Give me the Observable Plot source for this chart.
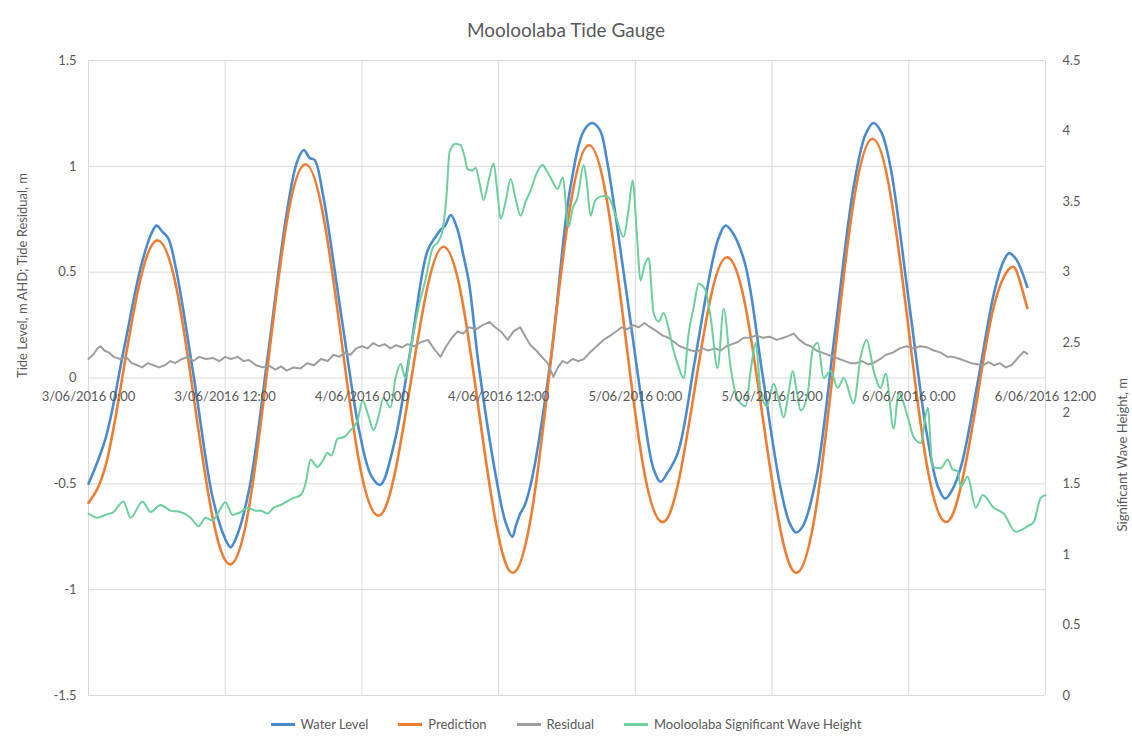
<!DOCTYPE html>
<html>
<head>
<meta charset="utf-8">
<script src="https://cdn.jsdelivr.net/npm/d3@7"></script>
<script src="https://cdn.jsdelivr.net/npm/@observablehq/plot@0.6"></script>
<style>
  html, body { margin: 0; padding: 0; background: #fff; }
  body { width: 1132px; height: 738px; overflow: hidden; font-family: Lato, "Open Sans", sans-serif; color: #595959; }
  #title { height: 45px; box-sizing: border-box; padding-top: 19px; text-align: center; font-size: 19px; line-height: 22px; color: #595959; }
  #chart svg { display: block; }
  #legend { height: 28px; display: flex; justify-content: center; align-items: center; gap: 30px; font-size: 13px; color: #595959; }
  .item { display: flex; align-items: center; gap: 6px; }
  .sw { width: 24px; height: 3px; display: inline-block; }
</style>
</head>
<body>
<div id="title">Mooloolaba Tide Gauge</div>
<div id="chart"></div>
<div id="legend"></div>
<script>
// ---- Data (hours after 3/06/2016 0:00, value) ----
const seriesNames = ["Water Level", "Prediction", "Residual", "Mooloolaba Significant Wave Height"];
const seriesColors = ["#4a8bd0", "#ee7d31", "#9e9e9e", "#6ccf9c"];

const waterLevel = [[0,-0.50],[1.525,-0.28],[3.05,0.12],[4.575,0.52],[5.5,0.68],[5.97,0.72],[6.5,0.69],[7.0,0.66],[7.7,0.51],[9.3,-0.015],[10.9,-0.566],[12.0,-0.76],[12.47,-0.80],[13.0,-0.75],[14.125,-0.52],[15.75,0.11],[17.375,0.77],[18.3,1.02],[18.9,1.077],[19.4,1.04],[19.85,1.03],[20.6,0.86],[22.2,0.29],[23.8,-0.26],[24.8,-0.46],[25.6,-0.505],[26.85,-0.305],[28.3,0.145],[29.75,0.60],[30.5,0.67],[30.9,0.70],[31.3,0.72],[31.8,0.77],[32.4,0.70],[32.9,0.58],[33.4,0.45],[34.25,0.06],[35.775,-0.47],[36.6,-0.68],[37.2,-0.75],[37.5,-0.70],[37.9,-0.64],[38.3,-0.60],[38.95,-0.47],[40.6,0.10],[42.25,0.885],[43.5,1.17],[44.2,1.205],[44.9,1.17],[45.5,1.03],[47.1,0.45],[48.7,-0.16],[49.6,-0.43],[50.2,-0.49],[50.8,-0.45],[51.75,-0.35],[53.2,0.075],[54.65,0.52],[55.3,0.66],[55.9,0.72],[56.5,0.69],[57.625,0.54],[59.15,0.02],[60.675,-0.50],[61.5,-0.68],[62.1,-0.73],[62.7,-0.70],[63.85,-0.48],[65.5,0.205],[67.15,0.90],[68.2,1.15],[68.9,1.205],[69.6,1.16],[70.4,0.995],[72.0,0.365],[73.6,-0.27],[74.6,-0.52],[75.2,-0.57],[75.8,-0.53],[76.625,-0.41],[78.05,-0.02],[79.475,0.40],[80.3,0.55],[80.8,0.59],[81.3,0.57],[81.65,0.54],[82.4,0.43]];

const prediction = [[0,-0.59],[1.525,-0.41],[3.05,0.03],[4.575,0.47],[6.1,0.65],[7.7,0.43],[9.3,-0.115],[10.9,-0.66],[12.5,-0.88],[14.125,-0.60],[15.75,0.065],[17.375,0.73],[19.0,1.01],[20.6,0.77],[22.2,0.18],[23.8,-0.41],[25.4,-0.65],[26.85,-0.46],[28.3,-0.015],[29.75,0.43],[31.2,0.62],[32.725,0.39],[34.25,-0.15],[35.775,-0.69],[37.3,-0.92],[38.95,-0.62],[40.6,0.09],[42.25,0.80],[43.9,1.10],[45.5,0.84],[47.1,0.21],[48.7,-0.42],[50.3,-0.68],[51.75,-0.50],[53.2,-0.055],[54.65,0.39],[56.1,0.57],[57.625,0.35],[59.15,-0.175],[60.675,-0.70],[62.2,-0.92],[63.85,-0.62],[65.5,0.105],[67.15,0.83],[68.8,1.13],[70.4,0.865],[72.0,0.225],[73.6,-0.415],[75.2,-0.68],[76.625,-0.50],[78.05,-0.08],[79.475,0.34],[80.9,0.52],[81.65,0.475],[82.4,0.33]];

const residual = [[0,0.09],[0.4,0.11],[0.8,0.14],[1.05,0.15],[1.4,0.13],[1.8,0.12],[2.2,0.10],[2.8,0.09],[3.3,0.10],[3.8,0.07],[4.3,0.06],[4.7,0.05],[5.2,0.07],[5.7,0.06],[6.2,0.05],[6.7,0.06],[7.2,0.08],[7.6,0.07],[8.2,0.09],[8.7,0.10],[9.2,0.08],[9.7,0.10],[10.3,0.09],[10.9,0.095],[11.5,0.08],[12.0,0.10],[12.5,0.09],[13.1,0.10],[13.6,0.08],[14.1,0.085],[14.7,0.06],[15.3,0.05],[15.8,0.06],[16.4,0.04],[16.9,0.055],[17.4,0.035],[18.0,0.05],[18.6,0.045],[19.2,0.07],[19.8,0.06],[20.4,0.09],[21.0,0.08],[21.5,0.11],[22.0,0.10],[22.5,0.12],[23.0,0.11],[23.5,0.14],[24.0,0.15],[24.5,0.14],[25.0,0.165],[25.5,0.15],[26.0,0.16],[26.5,0.14],[27.0,0.155],[27.5,0.145],[28.0,0.16],[28.6,0.15],[29.2,0.17],[29.8,0.18],[30.3,0.14],[30.9,0.10],[31.4,0.15],[31.9,0.19],[32.4,0.22],[32.9,0.21],[33.4,0.24],[34.0,0.23],[34.6,0.25],[35.2,0.265],[35.7,0.24],[36.2,0.22],[36.8,0.18],[37.3,0.22],[37.9,0.24],[38.4,0.19],[38.8,0.155],[39.3,0.13],[39.8,0.10],[40.3,0.07],[40.8,0.005],[41.2,0.05],[41.6,0.08],[42.0,0.07],[42.5,0.09],[43.0,0.08],[43.5,0.09],[44.0,0.12],[44.6,0.15],[45.2,0.18],[45.8,0.20],[46.3,0.22],[46.8,0.24],[47.3,0.23],[47.8,0.25],[48.3,0.24],[48.8,0.26],[49.3,0.24],[49.9,0.22],[50.4,0.20],[50.9,0.19],[51.4,0.17],[51.9,0.15],[52.4,0.14],[52.9,0.13],[53.4,0.125],[53.9,0.14],[54.4,0.13],[55.0,0.14],[55.5,0.13],[56.0,0.15],[56.5,0.16],[57.0,0.17],[57.5,0.19],[58.0,0.19],[58.6,0.20],[59.2,0.19],[59.8,0.195],[60.4,0.18],[61.0,0.19],[61.5,0.20],[61.9,0.21],[62.4,0.18],[62.9,0.16],[63.4,0.15],[63.9,0.13],[64.4,0.12],[64.9,0.11],[65.4,0.10],[65.9,0.09],[66.4,0.08],[66.9,0.07],[67.4,0.07],[67.9,0.08],[68.4,0.065],[68.9,0.07],[69.5,0.09],[70.0,0.11],[70.6,0.12],[71.2,0.14],[71.8,0.15],[72.4,0.14],[73.0,0.15],[73.6,0.145],[74.2,0.13],[74.8,0.12],[75.4,0.10],[75.9,0.10],[76.5,0.09],[77.0,0.08],[77.5,0.07],[78.0,0.065],[78.5,0.06],[79.0,0.075],[79.5,0.06],[80.0,0.07],[80.5,0.05],[81.0,0.06],[81.5,0.09],[82.1,0.125],[82.4,0.115]];

const waveHeight = [[0,1.29],[0.79,1.26],[1.49,1.28],[2.19,1.30],[3.07,1.375],[3.69,1.26],[4.74,1.375],[5.44,1.30],[6.32,1.35],[7.2,1.31],[8.08,1.30],[8.96,1.26],[9.66,1.20],[10.27,1.26],[10.89,1.24],[11.41,1.30],[12.03,1.37],[12.64,1.28],[13.35,1.30],[13.96,1.33],[14.66,1.31],[15.1,1.31],[15.72,1.29],[16.24,1.33],[16.86,1.35],[18.0,1.40],[18.61,1.42],[19.05,1.50],[19.49,1.67],[20.1,1.62],[20.54,1.66],[20.98,1.72],[21.33,1.70],[21.86,1.82],[22.39,1.83],[23.0,1.88],[23.62,1.95],[24.06,2.09],[24.58,1.98],[25.02,1.88],[25.46,1.98],[25.9,2.11],[26.51,2.04],[26.95,2.25],[27.39,2.35],[27.83,2.25],[28.27,2.45],[28.97,2.75],[29.59,2.95],[30.2,3.17],[30.73,3.22],[31.08,3.30],[31.43,3.55],[31.69,3.85],[32.22,3.91],[32.66,3.90],[33.01,3.82],[33.27,3.73],[33.71,3.72],[33.98,3.74],[34.33,3.63],[34.68,3.51],[35.12,3.65],[35.56,3.77],[35.91,3.55],[36.17,3.38],[36.61,3.50],[37.05,3.66],[37.49,3.52],[37.93,3.40],[38.37,3.50],[38.81,3.58],[39.33,3.70],[39.86,3.76],[40.21,3.72],[40.56,3.67],[41.18,3.59],[41.62,3.67],[42.14,3.32],[42.49,3.45],[42.93,3.53],[43.46,3.76],[43.72,3.65],[44.07,3.40],[44.43,3.50],[44.78,3.53],[45.22,3.54],[45.65,3.53],[46.27,3.40],[46.97,3.25],[47.41,3.45],[47.76,3.65],[48.11,3.30],[48.46,2.94],[48.81,3.05],[49.17,3.10],[49.6,2.71],[50.04,2.65],[50.48,2.71],[50.92,2.60],[51.27,2.47],[51.71,2.35],[52.24,2.25],[52.68,2.57],[53.12,2.75],[53.56,2.92],[53.91,2.90],[54.17,2.87],[54.61,2.68],[55.22,2.32],[55.75,2.74],[56.37,2.32],[56.98,2.10],[57.68,2.05],[58.12,2.30],[58.56,2.50],[58.99,2.16],[59.53,2.05],[60.14,2.21],[60.58,2.10],[61.02,1.97],[61.46,2.15],[61.81,2.30],[62.16,2.16],[62.51,2.02],[63.13,2.14],[63.56,2.45],[64.0,2.50],[64.53,2.25],[65.14,2.30],[65.76,2.18],[66.29,2.25],[67.16,2.07],[67.78,2.40],[68.31,2.52],[68.92,2.30],[69.53,2.18],[69.97,2.28],[70.68,1.89],[71.11,2.15],[71.55,2.07],[71.99,1.95],[72.43,1.83],[73.05,1.79],[73.66,2.04],[74.1,1.62],[74.8,1.61],[75.42,1.67],[75.86,1.60],[76.29,1.59],[76.56,1.48],[77.17,1.55],[77.88,1.33],[78.49,1.42],[79.46,1.33],[80.33,1.29],[81.39,1.16],[82.44,1.20],[82.97,1.23],[83.58,1.40],[84.0,1.42]];

const leftTicks = [-1.5, -1, -0.5, 0, 0.5, 1, 1.5];
const rightTicks = [0, 0.5, 1, 1.5, 2, 2.5, 3, 3.5, 4, 4.5];
const xTickHours = [0, 12, 24, 36, 48, 60, 72, 84];
const leftTitle = "Tide Level, m AHD; Tide Residual, m";
const rightTitle = "Significant Wave Height, m";

// ---- helpers ----
const t0 = Date.UTC(2016, 5, 3, 0, 0);
const toDate = h => new Date(t0 + h * 3600e3);
const rows = arr => arr.map(([h, v]) => ({t: toDate(h), v}));
const leftDomain = [-1.5, 1.5], rightDomain = [0, 4.5];
const rightToLeft = w => leftDomain[0] + (w - rightDomain[0]) * (leftDomain[1] - leftDomain[0]) / (rightDomain[1] - rightDomain[0]);
const fmtDate = d => `${d.getUTCDate()}/06/2016 ${d.getUTCHours()}:00`;
const xTicks = xTickHours.map(toDate);
const grid = "#d9d9d9";

const chart = Plot.plot({
  width: 1132,
  height: 665,
  marginLeft: 88,
  marginRight: 87,
  marginTop: 15,
  marginBottom: 15,
  style: {fontFamily: "Lato, 'Open Sans', sans-serif", fontSize: "13px", color: "#595959", background: "#fff", overflow: "visible"},
  x: {type: "utc", domain: [toDate(0), toDate(84)], axis: null},
  y: {domain: leftDomain},
  marks: [
    Plot.gridY(leftTicks, {stroke: grid, strokeOpacity: 1, strokeWidth: 1}),
    Plot.gridX(xTicks, {stroke: grid, strokeOpacity: 1, strokeWidth: 1}),
    Plot.axisY(leftTicks, {anchor: "left", tickSize: 0, tickPadding: 12, tickFormat: d => String(d), label: null, fontSize: 13}),
    Plot.axisY(rightTicks, {anchor: "right", y: rightToLeft, tickSize: 0, tickPadding: 17, tickFormat: d => String(d), label: null, fontSize: 13}),
    Plot.text([leftTitle], {text: d => d, frameAnchor: "left", dx: -66, rotate: -90, fontSize: 13}),
    Plot.text([rightTitle], {text: d => d, frameAnchor: "right", dx: 77, rotate: -90, fontSize: 13}),
    Plot.line(rows(waterLevel), {x: "t", y: "v", stroke: seriesColors[0], strokeWidth: 2.6, curve: "catmull-rom"}),
    Plot.line(rows(prediction), {x: "t", y: "v", stroke: seriesColors[1], strokeWidth: 2.6, curve: "natural"}),
    Plot.line(rows(residual), {x: "t", y: "v", stroke: seriesColors[2], strokeWidth: 2, curve: "linear"}),
    Plot.line(rows(waveHeight), {x: "t", y: d => rightToLeft(d.v), stroke: seriesColors[3], strokeWidth: 2, curve: "monotone-x"}),
    Plot.text(xTicks, {x: d => d, y: 0, dy: 19, text: fmtDate, fontSize: 13, fill: "#595959"})
  ]
});
document.getElementById("chart").appendChild(chart);

const legend = document.getElementById("legend");
seriesNames.forEach((name, i) => {
  const item = document.createElement("div");
  item.className = "item";
  const sw = document.createElement("span");
  sw.className = "sw";
  sw.style.background = seriesColors[i];
  const lab = document.createElement("span");
  lab.textContent = name;
  item.appendChild(sw);
  item.appendChild(lab);
  legend.appendChild(item);
});
</script>
</body>
</html>
